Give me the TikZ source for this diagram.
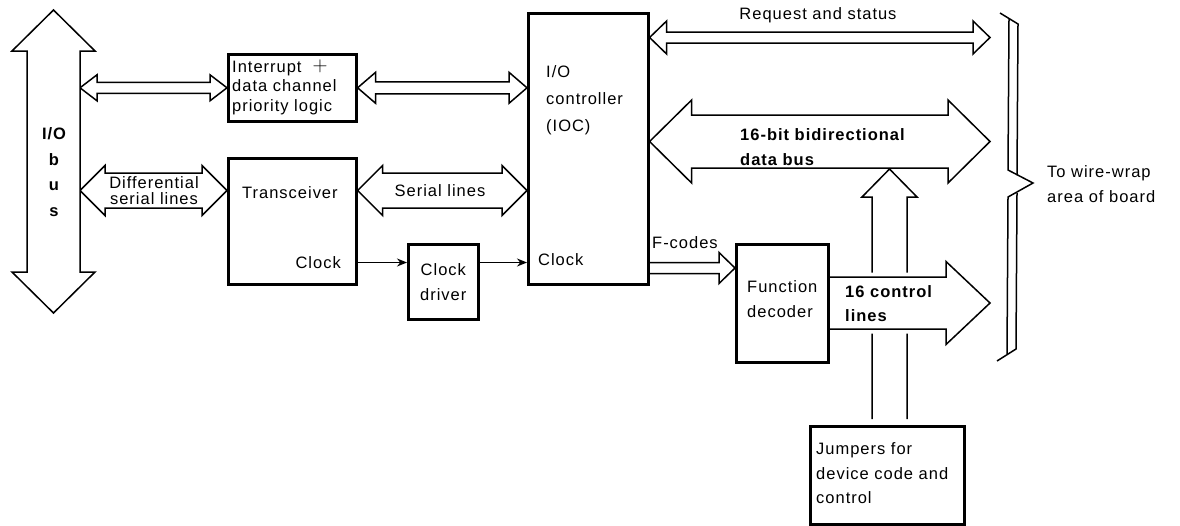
\documentclass[tikz,border=0pt]{standalone}
\usepackage{fontspec}
\setmainfont{Liberation Sans}[LetterSpace=6]
\usetikzlibrary{calc,arrows.meta}
\pgfdeclarelayer{bg}
\pgfsetlayers{bg,main}
\newcommand\fsz[1]{\fontsize{16.5}{#1}\selectfont}
% horizontal block arrow with two heads:
% [style] left tip, right tip, shaft half-width, head half-width, head length
\newcommand\hdbl[6][]{%
  \path[fat,#1] (#2) -- ++(#6,-#5) -- ++(0,{#5-#4}) -- ($(#3)+(-#6,-#4)$)
    -- ++(0,{#4-#5}) -- (#3) -- ++(-#6,#5) -- ++(0,{#4-#5})
    -- ($(#2)+(#6,#4)$) -- ++(0,{#5-#4}) -- cycle;}
% horizontal block arrow with one head, open at its tail
\newcommand\hsgl[6][]{%
  \path[fat,#1] ($(#2)+(0,-#4)$) -- ($(#3)+(-#6,-#4)$) -- ++(0,{#4-#5})
    -- (#3) -- ++(-#6,#5) -- ++(0,{#4-#5}) -- ($(#2)+(0,#4)$);}
\tikzset{
  box/.style={draw, line width=2.6pt, fill=white, inner sep=0pt, anchor=north west},
  fat/.style={draw, line width=1.5pt, line join=miter, fill=white},
  lbl/.style={inner sep=0pt, font=\fsz{20}, align=left},
  wire/.style={draw, line width=1.4pt, -{Stealth[length=10pt,width=8pt]}},
  brc/.style={draw, line width=1.5pt, line join=miter}
}
\begin{document}
\begin{tikzpicture}[x=1pt,y=-1pt]
\useasboundingbox (0,0) rectangle (1180,525);

% functional blocks
\node[box, minimum width=128, minimum height=67]  (intr) at (227,53)  {};
\node[box, minimum width=128, minimum height=126] (trx)  at (227,157) {};
\node[box, minimum width=70,  minimum height=75]  (ck)   at (407,243) {};
\node[box, minimum width=120, minimum height=271] (ioc)  at (527,12)  {};
\node[box, minimum width=92,  minimum height=118] (fd)   at (735,243) {};
\node[box, minimum width=154, minimum height=98]  (jmp)  at (809,425) {};

% reference levels for the connectors
\coordinate (busR) at (80,0);
\coordinate (ySer) at (0,190.5);
\coordinate (yClk) at (0,262.5);
\coordinate (yReq) at (0,37.5);
\coordinate (yDat) at (0,141.5);
\coordinate (yFc)  at (0,268);
\coordinate (yCtl) at (0,303);
\coordinate (wrap) at (990,0);
\coordinate (upX)  at (889.5,0);
\coordinate (upTip) at ($(upX |- yDat)+(0,27.5)$);

% I/O bus
\path[fat] (53.5,10) -- (95,51) -- (80,51) -- (80,272) -- (95,272) -- (53.5,313)
  -- (12,272) -- (27,272) -- (27,51) -- (12,51) -- cycle;
\node[lbl, align=center, font=\bfseries\fsz{25.5}] (busl) at (54,172) {I/O\\b\\u\\s};

\begin{pgfonlayer}{bg}
  \hdbl{busR |- intr.west}{intr.west}{5.5}{13}{17}
  \hdbl{intr.east}{intr.east -| ioc.west}{6}{15.5}{18}
  \hdbl{busR |- ySer}{trx.west |- ySer}{17.5}{25}{25}
  \hdbl{trx.east |- ySer}{ioc.west |- ySer}{17.5}{25}{25}
  \hdbl{ioc.east |- yReq}{wrap |- yReq}{5.5}{16.5}{17}
  \hdbl{ioc.east |- yDat}{wrap |- yDat}{26.5}{41.5}{42}
  \hsgl{ioc.east |- yFc}{fd.west |- yFc}{5.5}{15.5}{16}
  % jumpers feed the data bus
  \path[fat] ($(upX |- jmp.north)+(-17.5,-6)$) -- ($(upTip)+(-17.5,28)$) -- ++(-10,0)
    -- (upTip) -- ++(27.5,28) -- ++(-10,0) -- ($(upX |- jmp.north)+(17.5,-6)$);
  % control lines pass over the jumper lines
  \hsgl[draw=white, line width=9pt]{fd.east |- yCtl}{wrap |- yCtl}{26}{41.5}{44}
  \hsgl{fd.east |- yCtl}{wrap |- yCtl}{26}{41.5}{44}
\end{pgfonlayer}

% clock path
\path[wire] (trx.east |- yClk) -- (ck.west |- yClk);
\path[wire] (ck.east |- yClk) -- (ioc.west |- yClk);

% brace towards the wire-wrap area
\path[brc] (1000,13) -- (1018,24) -- (1017,175);
\path[brc] (1009,19) -- (1008,170) -- (1033,183) -- (1008,197) -- (1007,354);
\path[brc] (1017,193) -- (1016,349) -- (997,361);

% labels
\node[lbl, anchor=west, font=\fsz{19.5}] at (232,87) {Interrupt\ \ \raisebox{1pt}{\fontsize{20}{20}\selectfont$+$}\\data channel\\priority logic};
\node[lbl, anchor=west] at (242,193) {Transceiver};
\node[lbl, anchor=east] at (341,263) {Clock};
\node[lbl, align=center, font=\fsz{16}] at (154,191) {Differential\\serial lines};
\node[lbl] at (440,191) {Serial lines};
\node[lbl, align=center, font=\fsz{25}] at (ck.center) {Clock\\driver};
\node[lbl, anchor=west, font=\fsz{27}] at (546,100) {I/O\\controller\\(IOC)};
\node[lbl, anchor=west] at (538,260) {Clock};
\node[lbl] at (818,15) {Request and status};
\node[lbl, anchor=west, font=\bfseries\fsz{25}] at (740,147.5) {16-bit bidirectional\\data bus};
\node[lbl, anchor=west] at (652,243) {F-codes};
\node[lbl, anchor=west, font=\fsz{25}] at (747,299.5) {Function\\decoder};
\node[lbl, anchor=west, font=\bfseries\fsz{24}] at (845,304) {16 control\\lines};
\node[lbl, anchor=west, font=\fsz{24.5}] at (816,473.5) {Jumpers for\\device code and\\control};
\node[lbl, anchor=west, font=\fsz{25}] at (1047,184.5) {To wire-wrap\\area of board};
\end{tikzpicture}
\end{document}
